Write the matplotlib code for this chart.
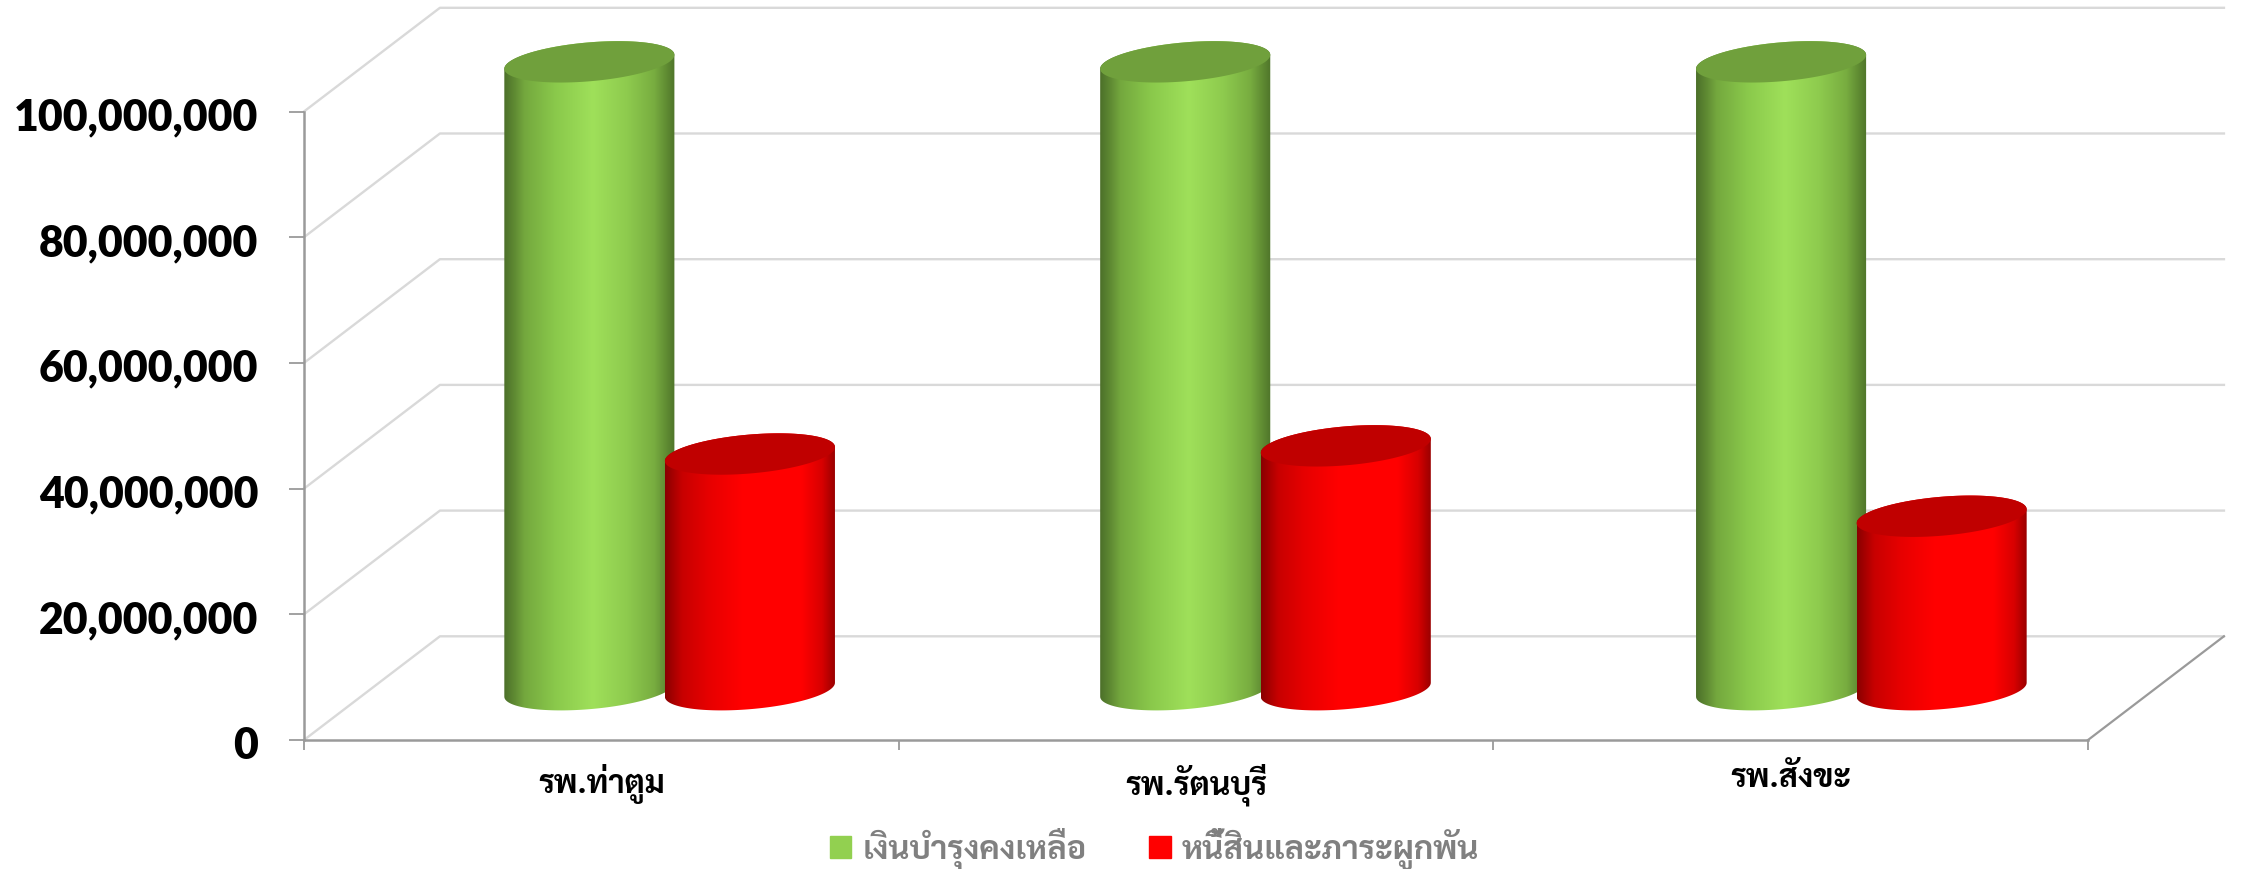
import numpy as np
import matplotlib
matplotlib.use('Agg')
import matplotlib.pyplot as plt
from matplotlib import font_manager as fm
from matplotlib.colors import LinearSegmentedColormap
from matplotlib.patches import Patch, Polygon
from matplotlib.transforms import ScaledTranslation

hospitals = ['รพ.ท่าตูม', 'รพ.รัตนบุรี', 'รพ.สังขะ']
series_names = ['เงินบำรุงคงเหลือ', 'หนี้สินและภาระผูกพัน']
reserve = [99900000, 99900000, 99900000]
debt = [37500000, 38800000, 27600000]
y_ticks = [0, 20000000, 40000000, 60000000, 80000000, 100000000]

THAI_FONT = ['Sarabun', 'Noto Sans Thai', 'DejaVu Sans']

# depth of the floor, in data units
DEPTH_X = 136 / 595
DEPTH_Y = 16500000
BAR_DEPTH = 0.485
BAR_W = 0.286
BAR_OFF = 0.135
ELL_B = 3100000
ELL_SHEAR = 1110000

GRID = '#d9d9d9'
AXIS = '#9a9a9a'

green_cm = LinearSegmentedColormap.from_list('g', [(0, '#4c7029'), (0.06, '#5f8a33'), (0.12, '#74a83e'),
                                                   (0.3, '#8ac94b'), (0.52, '#9fe05a'), (0.72, '#8ecb4e'),
                                                   (0.88, '#78ad40'), (1, '#4f752a')])
red_cm = LinearSegmentedColormap.from_list('r', [(0, '#8a0000'), (0.1, '#c80000'), (0.25, '#e60000'),
                                                 (0.45, '#ff0000'), (0.8, '#ff0000'), (0.92, '#d80000'),
                                                 (1, '#960000')])


def cylinder(ax, x, value, cmap, top_color, z):
    # sheared ellipses for the base and the lid
    x0 = x + BAR_DEPTH * DEPTH_X
    y0 = BAR_DEPTH * DEPTH_Y
    y1 = y0 + value
    a = BAR_W / 2
    t = np.linspace(np.pi, 2 * np.pi, 80)
    low_x = x0 + a * np.cos(t)
    low_y = y0 + ELL_SHEAR * np.cos(t) + ELL_B * np.sin(t)
    t2 = np.linspace(0, np.pi, 80)
    up_x = x0 + a * np.cos(t2)
    up_y = y1 + ELL_SHEAR * np.cos(t2) + ELL_B * np.sin(t2)
    outline = np.column_stack([np.r_[low_x, up_x], np.r_[low_y, up_y]])
    body = Polygon(outline, closed=True, facecolor='none', edgecolor='none', transform=ax.transData)
    ax.add_patch(body)
    body.set_clip_on(False)
    im = ax.imshow(np.linspace(0, 1, 256).reshape(1, -1), cmap=cmap, aspect='auto',
                   extent=[x0 - a, x0 + a, y0 - 2 * ELL_B, y1 + 2 * ELL_B], zorder=z)
    im.set_clip_path(body)
    im.set_clip_box(fig.bbox)
    lid_t = np.linspace(0, 2 * np.pi, 160)
    ax.fill(x0 + a * np.cos(lid_t), y1 + ELL_SHEAR * np.cos(lid_t) + ELL_B * np.sin(lid_t),
            color=top_color, lw=0, zorder=z + 0.1, clip_on=False)


fig = plt.figure(figsize=(22.41, 8.69), dpi=100)
ax = fig.add_axes([304 / 2241, (869 - 740) / 869, 1784 / 2241, 628.5 / 869])
ax.set_xlim(0, 3)
ax.set_ylim(0, 100000000)
ax.set_autoscale_on(False)

for s in ['top', 'right']:
    ax.spines[s].set_visible(False)
for s in ['left', 'bottom']:
    ax.spines[s].set_color(AXIS)
    ax.spines[s].set_linewidth(1.8)

# walls
for v in y_ticks:
    ax.plot([0, DEPTH_X, 3 + DEPTH_X], [v, v + DEPTH_Y, v + DEPTH_Y], color=GRID, lw=1.7,
            clip_on=False, zorder=1)
ax.plot([3, 3 + DEPTH_X], [0, DEPTH_Y], color=AXIS, lw=1.6, clip_on=False, zorder=1)

for i in range(3):
    centre = 0.504 + i * 1.002
    cylinder(ax, centre - BAR_OFF, reserve[i], green_cm, '#70a03c', 3 + i)
    cylinder(ax, centre + BAR_OFF, debt[i], red_cm, '#c00000', 3.5 + i)

ax.set_yticks(y_ticks)
ax.set_yticklabels([f'{v:,}' for v in y_ticks], family=['Lato', 'DejaVu Sans'], fontweight='heavy', fontsize=30.8)
ax.tick_params(axis='y', length=11, width=1.3, color=AXIS, pad=22)
down = ScaledTranslation(0, -1.8 / 72, fig.dpi_scale_trans)
for lab in ax.get_yticklabels():
    lab.set_transform(lab.get_transform() + down)
ax.set_xticks([0, 1, 2, 3])
ax.set_xticklabels([])
ax.tick_params(axis='x', length=7, width=1.3, color=AXIS)
ax.set_xticks([0.5, 1.5, 2.5], minor=True)
ax.set_xticklabels(hospitals, minor=True, family=THAI_FONT, fontweight='bold', fontsize=23)
ax.tick_params(axis='x', which='minor', length=0, pad=17)

handles = [Patch(color='#92d050'), Patch(color='#ff0000')]
leg = fig.legend(handles, series_names, ncol=2, frameon=False, loc='center',
                 prop=fm.FontProperties(family=THAI_FONT, weight='bold', size=23.5),
                 labelcolor='#808080', handlelength=0.65, handleheight=0.65, handletextpad=0.35, columnspacing=1.93)
leg.set_bbox_to_anchor((0.5152, 1 - 849 / 869), transform=fig.transFigure)

plt.savefig('out.png', dpi=100)
